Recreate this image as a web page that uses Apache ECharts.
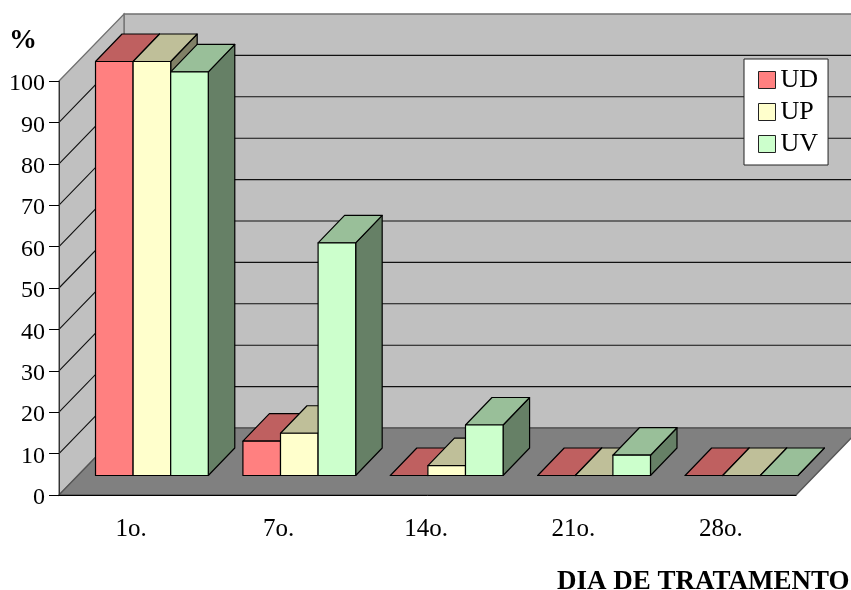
<!DOCTYPE html>
<html>
<head>
<meta charset="utf-8">
<style>
html, body { margin: 0; padding: 0; background: #fff; overflow: hidden; }
#chart { width: 851px; height: 590px; }
</style>
<script src="https://cdn.jsdelivr.net/npm/echarts@6/dist/echarts.min.js"></script>
</head>
<body>
<div id="chart"></div>
<script>
var categories = ['1o.', '7o.', '14o.', '21o.', '28o.'];
var valuesUD = [100, 8.3, 0, 0, 0];
var valuesUP = [100, 10.2, 2.4, 0, 0];
var valuesUV = [97.5, 56.2, 12.2, 4.9, 0];
var gridValues = [10, 20, 30, 40, 50, 60, 70, 80, 90];

// front, top and side colours of the three series
var colorsUD = ['#FF8080', '#BF6060', '#804040'];
var colorsUP = ['#FFFFCC', '#BFBF99', '#808066'];
var colorsUV = ['#CCFFCC', '#99BF99', '#668066'];

var font = '"Liberation Serif", serif';
var wallDx = 65, wallDy = 67;     // depth of the walls
var shiftX = 19.2, shiftY = 19.5; // how far back the bars stand
var depthX = 26.5, depthY = 27.5; // depth of a bar

function renderWalls(params, api) {
    var o = api.coord([0, 0]);
    var left = o[0] - api.size([1, 0])[0] / 2;
    var right = left + api.size([1, 0])[0] * categories.length;
    var bottom = o[1];
    var top = api.coord([0, 100])[1];
    var children = [
        {type: 'polygon', shape: {points: [[left + wallDx, top - wallDy], [right + wallDx, top - wallDy], [right + wallDx, bottom - wallDy], [left + wallDx, bottom - wallDy]]},
            style: {fill: '#C0C0C0', stroke: '#707070', lineWidth: 1.3}},
        {type: 'polygon', shape: {points: [[left, top], [left + wallDx, top - wallDy], [left + wallDx, bottom - wallDy], [left, bottom]]},
            style: {fill: '#C0C0C0', stroke: '#707070', lineWidth: 1.3}},
        {type: 'polygon', shape: {points: [[left, bottom], [left + wallDx, bottom - wallDy], [right + wallDx, bottom - wallDy], [right, bottom]]},
            style: {fill: '#808080', stroke: '#555', lineWidth: 1.3}}
    ];
    gridValues.forEach(function (v) {
        var y = api.coord([0, v])[1];
        children.push({type: 'polyline', shape: {points: [[left, y], [left + wallDx, y - wallDy], [right + wallDx, y - wallDy]]},
            style: {fill: null, stroke: '#111', lineWidth: 1.1}});
    });
    return {type: 'group', children: children};
}

function barRenderer(seriesIndex, colors) {
    return function (params, api) {
        var cat = api.value(0);
        var base = api.coord([cat, 0]);
        var head = api.coord([cat, api.value(1)]);
        var w = api.size([1, 0])[0] * 0.255;
        var x0 = base[0] + shiftX - w * 1.5 + w * seriesIndex;
        var x1 = x0 + w;
        var yB = base[1] - shiftY;
        var yT = head[1] - shiftY;
        var line = {stroke: '#000', lineWidth: 1.2, lineJoin: 'round'};
        return {type: 'group', children: [
            {type: 'polygon', shape: {points: [[x1, yB], [x1 + depthX, yB - depthY], [x1 + depthX, yT - depthY], [x1, yT]]},
                style: Object.assign({fill: colors[2]}, line)},
            {type: 'polygon', shape: {points: [[x0, yT], [x0 + depthX, yT - depthY], [x1 + depthX, yT - depthY], [x1, yT]]},
                style: Object.assign({fill: colors[1]}, line)},
            {type: 'rect', shape: {x: x0, y: yT, width: w, height: yB - yT},
                style: Object.assign({fill: colors[0]}, line)}
        ]};
    };
}

function barSeries(name, values, index, colors) {
    return {
        name: name,
        type: 'custom',
        renderItem: barRenderer(index, colors),
        itemStyle: {color: colors[0]},
        encode: {x: 0, y: 1},
        z: 3,
        data: values.map(function (v, i) { return [i, v]; })
    };
}

var myChart = echarts.init(document.getElementById('chart'), null, {renderer: 'canvas'});

var option = {
    animation: false,
    backgroundColor: '#fff',
    textStyle: {fontFamily: font},
    title: [
        {text: '%', left: 9, top: 27, padding: 0, textStyle: {fontFamily: font, fontSize: 28, fontWeight: 'bold', color: '#000'}},
        {text: 'DIA DE TRATAMENTO', left: 557, top: 569, padding: 0, textStyle: {fontFamily: font, fontSize: 27, fontWeight: 'bold', color: '#000'}}
    ],
    legend: {
        data: ['UD', 'UP', 'UV'],
        orient: 'vertical',
        left: 744,
        top: 59,
        padding: [8, 10, 8, 14],
        itemWidth: 17,
        itemHeight: 17,
        itemGap: 6,
        icon: 'rect',
        selectedMode: false,
        backgroundColor: '#fff',
        borderColor: '#222',
        borderWidth: 1,
        itemStyle: {borderColor: '#222', borderWidth: 1},
        textStyle: {fontFamily: font, fontSize: 26, color: '#000'}
    },
    grid: {left: 59, right: 55, top: 81, bottom: 95},
    xAxis: {
        type: 'category',
        data: categories,
        z: 5,
        axisLine: {lineStyle: {color: '#000', width: 1}},
        axisTick: {length: 8, lineStyle: {color: '#000'}},
        axisLabel: {fontFamily: font, fontSize: 25, color: '#000', margin: 22, padding: [0, 3, 0, 0]}
    },
    yAxis: {
        type: 'value',
        min: 0,
        max: 100,
        interval: 10,
        z: 5,
        splitLine: {show: false},
        axisLine: {show: true, lineStyle: {color: '#333', width: 1}},
        axisTick: {show: true, length: 10, lineStyle: {color: '#000'}},
        axisLabel: {
            margin: 14,
            formatter: '{a|{value}}',
            rich: {a: {fontFamily: font, fontSize: 24, color: '#000', padding: [6, 0, 0, 0]}}
        }
    },
    series: [
        {type: 'custom', name: 'walls', renderItem: renderWalls, silent: true, z: 1, encode: {x: 0, y: 1}, data: [[0, 0]]},
        barSeries('UD', valuesUD, 0, colorsUD),
        barSeries('UP', valuesUP, 1, colorsUP),
        barSeries('UV', valuesUV, 2, colorsUV)
    ]
};

if (option && typeof option === "object") {
    myChart.setOption(option, true);
}
</script>
</body>
</html>
